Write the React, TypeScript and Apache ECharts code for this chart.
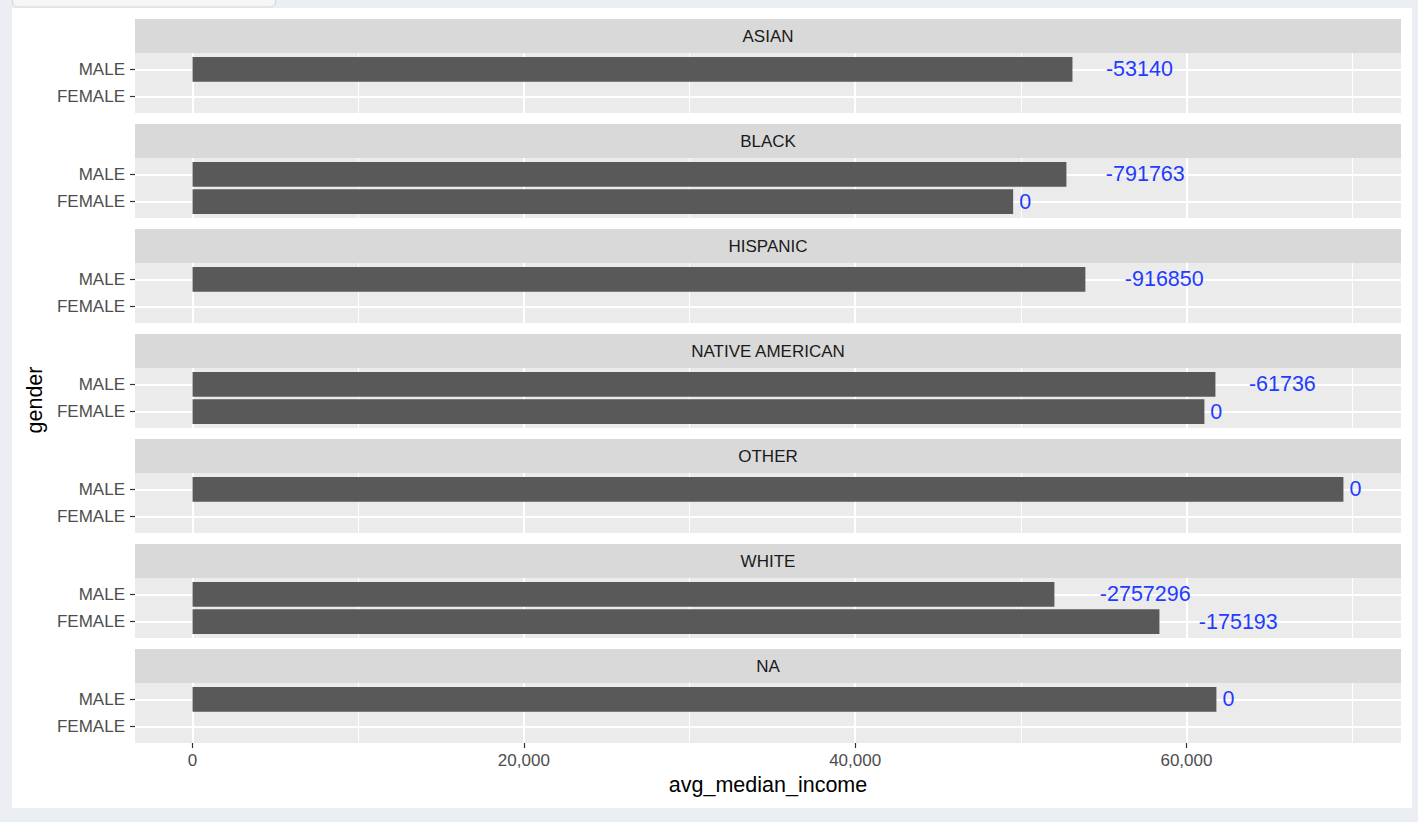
import React, { useEffect, useRef } from "react";
import * as echarts from "echarts";

const races = ["ASIAN", "BLACK", "HISPANIC", "NATIVE AMERICAN", "OTHER", "WHITE", "NA"];
const genderLevels = ["FEMALE", "MALE"]; // y positions 1, 2
const maleIncome = [53120, 52755, 53900, 61750, 69478, 52030, 61810];
const femaleIncome: (number | null)[] = [null, 49540, null, 61085, null, 58370, null];
const maleLabels = ["-53140", "-791763", "-916850", "-61736", "0", "-2757296", "0"];
const femaleLabels: (string | null)[] = [null, "0", null, "0", null, "-175193", null];
const xMajorTicks = [0, 20000, 40000, 60000];
const xMinorTicks = [10000, 30000, 50000, 70000];
const xMin = -3474;
const xMax = 72954;

const FONT = '"Liberation Sans", Arial, Helvetica, sans-serif';

export default function App() {
  const ref = useRef<HTMLDivElement>(null);

  useEffect(() => {
    const chart = echarts.init(ref.current!, null, { renderer: "svg" });
    const canvas = document.createElement("canvas");
    const ctx = canvas.getContext("2d")!;
    const labelSize = 21.5;
    ctx.font = `${labelSize}px "Liberation Sans"`;

    const grids: any[] = [];
    const xAxes: any[] = [];
    const yAxes: any[] = [];
    const series: any[] = [];
    const graphics: any[] = [
      { type: "rect", shape: { x: 12, y: 8, width: 1400, height: 800 }, style: { fill: "#ffffff" }, z: -10 },
      { type: "rect", shape: { x: 12.5, y: -12, width: 263, height: 19, r: 5 }, style: { fill: "#f6f6f6", stroke: "#d6d6d6", lineWidth: 1 }, z: -9 },
      {
        type: "text",
        x: 35,
        y: 400,
        rotation: Math.PI / 2,
        style: { text: "gender", fill: "#000", font: `21.5px ${FONT}`, align: "center", verticalAlign: "middle" },
      },
    ];

    races.forEach((race, i) => {
      const top = 53 + 105 * i;
      const isLast = i === races.length - 1;
      grids.push({ left: 135, top, width: 1266, height: 60, show: true, backgroundColor: "#ebebeb", borderWidth: 0 });
      xAxes.push({
        type: "value",
        gridIndex: i,
        min: xMin,
        max: xMax,
        position: "bottom",
        axisLine: { show: false, onZero: false },
        axisTick: { show: isLast, customValues: xMajorTicks, length: 5, lineStyle: { color: "#333333", width: 1.2 } },
        axisLabel: {
          show: isLast,
          customValues: xMajorTicks,
          formatter: (v: number) => v.toLocaleString("en-US"),
          fontSize: 17,
          color: "#4d4d4d",
          fontFamily: FONT,
          margin: 9,
        },
        splitLine: { show: true, lineStyle: { color: "#ffffff", width: 2 } },
        name: isLast ? "avg_median_income" : "",
        nameLocation: "middle",
        nameGap: 31,
        nameTextStyle: { fontSize: 21.5, color: "#000", fontFamily: FONT },
      });
      xAxes.push({
        type: "value",
        gridIndex: i,
        min: xMin,
        max: xMax,
        position: "top",
        axisLine: { show: false, onZero: false },
        axisTick: { show: false, customValues: xMinorTicks },
        axisLabel: { show: false, customValues: xMinorTicks },
        splitLine: { show: true, lineStyle: { color: "#ffffff", width: 1 } },
      });
      yAxes.push({
        type: "value",
        gridIndex: i,
        min: 0.4,
        max: 2.6,
        position: "left",
        axisLine: { show: false, onZero: false },
        axisTick: { show: true, customValues: [1, 2], length: 5, lineStyle: { color: "#333333", width: 1.2 } },
        axisLabel: {
          customValues: [1, 2],
          formatter: (v: number) => genderLevels[Math.round(v) - 1],
          fontSize: 17,
          color: "#4d4d4d",
          fontFamily: FONT,
          margin: 10,
        },
        splitLine: { show: true, lineStyle: { color: "#ffffff", width: 2 } },
      });

      const items: number[][] = [];
      const labels: string[] = [];
      items.push([maleIncome[i], 2]);
      labels.push(maleLabels[i]);
      if (femaleIncome[i] != null) {
        items.push([femaleIncome[i] as number, 1]);
        labels.push(femaleLabels[i] as string);
      }

      series.push({
        type: "custom",
        xAxisIndex: 2 * i,
        yAxisIndex: i,
        clip: false,
        data: items,
        renderItem: (params: any, api: any) => {
          const v = api.value(0);
          const g = api.value(1);
          const p0 = api.coord([0, g + 0.45]);
          const p1 = api.coord([v, g - 0.45]);
          const label = labels[params.dataIndex];
          const w = ctx.measureText(label).width;
          return {
            type: "group",
            children: [
              {
                type: "rect",
                shape: { x: p0[0], y: p0[1], width: p1[0] - p0[0], height: p1[1] - p0[1] },
                style: { fill: "#595959" },
              },
              {
                type: "text",
                x: p1[0] + w * 0.5,
                y: (p0[1] + p1[1]) / 2,
                style: {
                  text: label,
                  fill: "#1f3cff",
                  font: `${labelSize}px ${FONT}`,
                  align: "left",
                  verticalAlign: "middle",
                },
              },
            ],
          };
        },
      });

      graphics.push({ type: "rect", shape: { x: 135, y: top - 34, width: 1266, height: 34 }, style: { fill: "#d9d9d9" } });
      graphics.push({
        type: "text",
        x: 768,
        y: top - 17,
        style: { text: race, fill: "#1a1a1a", font: `17px ${FONT}`, align: "center", verticalAlign: "middle" },
      });
    });

    chart.setOption({
      animation: false,
      backgroundColor: "#ebeef3",
      grid: grids,
      xAxis: xAxes,
      yAxis: yAxes,
      series,
      graphic: graphics,
    });
    return () => chart.dispose();
  }, []);

  return <div ref={ref} style={{ position: "fixed", left: 0, top: 0, width: 1418, height: 822 }} />;
}
